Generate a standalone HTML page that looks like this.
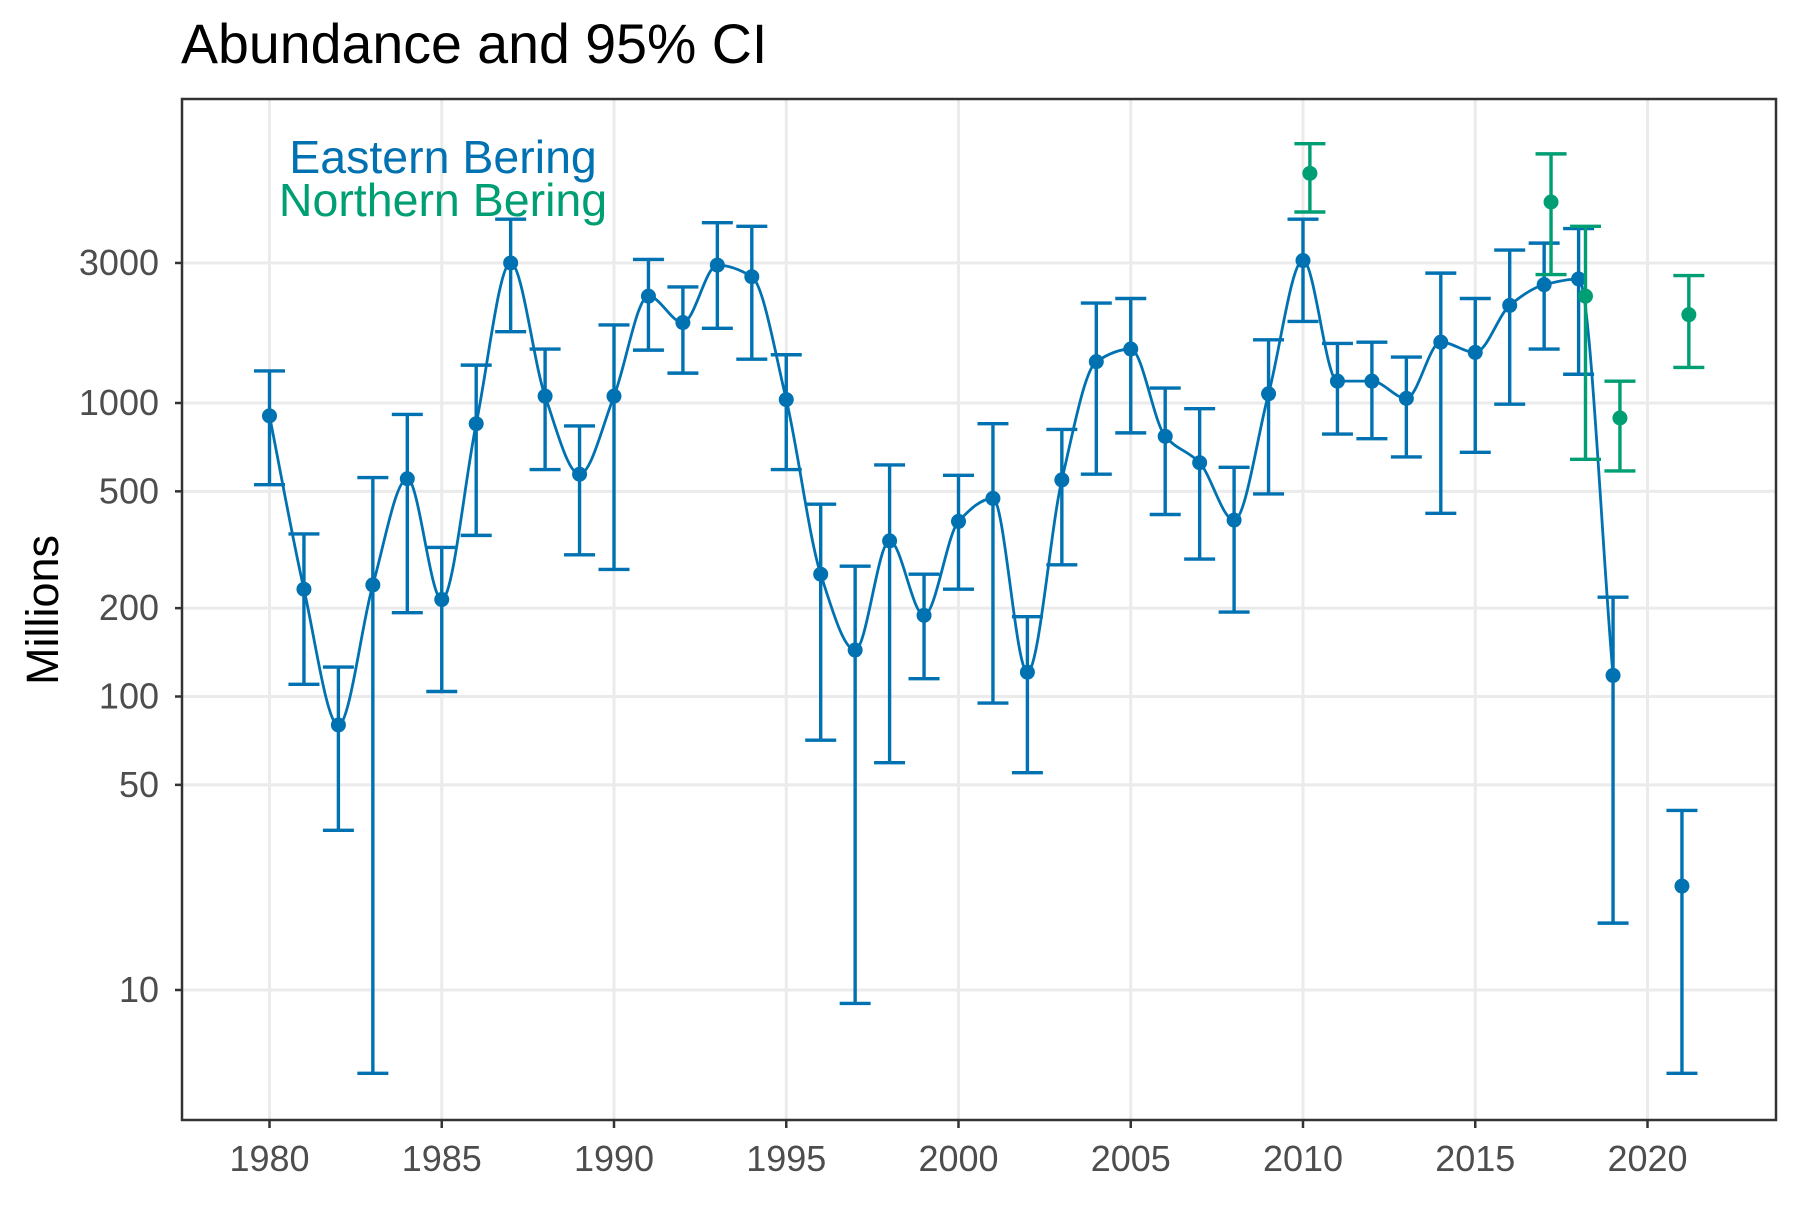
<!DOCTYPE html>
<html><head><meta charset="utf-8"><style>
body{margin:0;background:#fff;}
svg text{font-family:"Liberation Sans",Arial,sans-serif;}
</style></head><body>
<svg id="chart" width="1800" height="1200" viewBox="0 0 1800 1200" xmlns="http://www.w3.org/2000/svg">
<rect width="1800" height="1200" fill="#fff"/>
<text x="181" y="63" font-size="55.5" fill="#000">Abundance and 95% CI</text>
<text transform="translate(58,610) rotate(-90)" text-anchor="middle" font-size="45" fill="#000">Millions</text>
<g id="grid"></g>
<g id="axes"></g>
<g id="series"></g>
<rect x="182" y="99" width="1594" height="1021" fill="none" stroke="#333" stroke-width="2.5"/>
<text x="443" y="173" text-anchor="middle" font-size="46.5" fill="#0072B2">Eastern Bering</text>
<text x="443" y="216" text-anchor="middle" font-size="46.5" fill="#009E73">Northern Bering</text>
</svg>
<script>
const eastYears=[1980,1981,1982,1983,1984,1985,1986,1987,1988,1989,1990,1991,1992,1993,1994,1995,1996,1997,1998,1999,2000,2001,2002,2003,2004,2005,2006,2007,2008,2009,2010,2011,2012,2013,2014,2015,2016,2017,2018,2019,2021];
const eastVal=[904,232,80,240,552,214,850,3000,1055,572,1055,2312,1880,2950,2693,1027,261,144,339,189,395,473,121,547,1383,1527,770,626,399,1075,3058,1187,1187,1037,1612,1487,2150,2530,2646,118,22.6];
const eastLo=[527,110,35,5.2,193,104,354,1750,593,304,271,1514,1264,1796,1410,593,71,9.0,59.5,115,232,95,55,281,572,791,417,294,194,490,1896,784,756,655,421,679,991,1527,1253,16.9,5.2];
const eastHi=[1286,358,126,557,914,322,1346,4230,1527,835,1845,3085,2486,4115,4000,1460,452,278,615,261,567,850,187,813,2190,2270,1124,956,604,1642,4230,1596,1612,1434,2770,2270,3320,3505,3930,218,40.9];
const northYears=[2010,2017,2018,2019,2021];
const northVal=[6060,4840,2312,889,2000];
const northLo=[4475,2740,643,587,1322];
const northHi=[7650,7060,4000,1187,2717];
const xTicks=[1980,1985,1990,1995,2000,2005,2010,2015,2020];
const yTicks=[10,50,100,200,500,1000,3000];
const yTickLabels=["10","50","100","200","500","1000","3000"];

const NS="http://www.w3.org/2000/svg";
const X=y=>269.5+(y-1980)*34.45;
const Y=v=>403-(Math.log10(v)-3)*293.5;
function mk(tag,attrs,parent){const e=document.createElementNS(NS,tag);for(const k in attrs)e.setAttribute(k,attrs[k]);parent.appendChild(e);return e;}
const grid=document.getElementById('grid'),axes=document.getElementById('axes'),ser=document.getElementById('series');
yTicks.forEach((t,i)=>{
  const l=mk('line',{x1:182,x2:1776,y1:Y(t),y2:Y(t),stroke:'#ebebeb','stroke-width':3},grid);
  
  
  const tk=mk('line',{x1:175,x2:182,y1:Y(t),y2:Y(t),stroke:'#333','stroke-width':2.5},axes);
  
  
  const tx=mk('text',{x:159,y:Y(t)+12,'text-anchor':'end','font-size':36,fill:'#4d4d4d'},axes);
  tx.textContent=yTickLabels[i];
  
  
});
xTicks.forEach(t=>{
  const l=mk('line',{x1:X(t),x2:X(t),y1:99,y2:1120,stroke:'#ebebeb','stroke-width':3},grid);
  
  
  const tk=mk('line',{x1:X(t),x2:X(t),y1:1120,y2:1128,stroke:'#333','stroke-width':2.5},axes);
  
  
  const tx=mk('text',{x:X(t),y:1171,'text-anchor':'middle','font-size':36,fill:'#4d4d4d'},axes);
  tx.textContent=t;
  
  
});
// monotone cubic smooth line for 1980-2019
const pts=[];eastYears.forEach((y,i)=>{if(y<=2019)pts.push([X(y),Y(eastVal[i])]);});
const n=pts.length,dl=[],m=[];
for(let i=0;i<n-1;i++)dl.push((pts[i+1][1]-pts[i][1])/(pts[i+1][0]-pts[i][0]));
for(let i=0;i<n;i++){
  if(i===0)m.push(dl[0]);else if(i===n-1)m.push(dl[n-2]);
  else if(dl[i-1]*dl[i]<=0)m.push(0);
  else m.push(2/(1/dl[i-1]+1/dl[i]));
}
let d='M'+pts[0][0]+','+pts[0][1];
for(let i=0;i<n-1;i++){const h=(pts[i+1][0]-pts[i][0])/3;
 d+=` C${pts[i][0]+h},${pts[i][1]+m[i]*h} ${pts[i+1][0]-h},${pts[i+1][1]-m[i+1]*h} ${pts[i+1][0]},${pts[i+1][1]}`;}
const path=mk('path',{d:d,fill:'none',stroke:'#0072B2','stroke-width':2.8},ser);


function bars(years,val,lo,hi,col,off,name){
 years.forEach((y,i)=>{const x=X(y+off);
  const g=mk('g',{stroke:col,'stroke-width':3.4,fill:'none'},ser);
  
  
  mk('line',{x1:x,x2:x,y1:Y(lo[i]),y2:Y(hi[i])},g);
  mk('line',{x1:x-15.5,x2:x+15.5,y1:Y(lo[i]),y2:Y(lo[i])},g);
  mk('line',{x1:x-15.5,x2:x+15.5,y1:Y(hi[i]),y2:Y(hi[i])},g);
  const c=mk('circle',{cx:x,cy:Y(val[i]),r:7.5,fill:col},ser);
  
  
 });
}
bars(eastYears,eastVal,eastLo,eastHi,'#0072B2',0,'eastern');
bars(northYears,northVal,northLo,northHi,'#009E73',0.2,'northern');
</script>
</body></html>
